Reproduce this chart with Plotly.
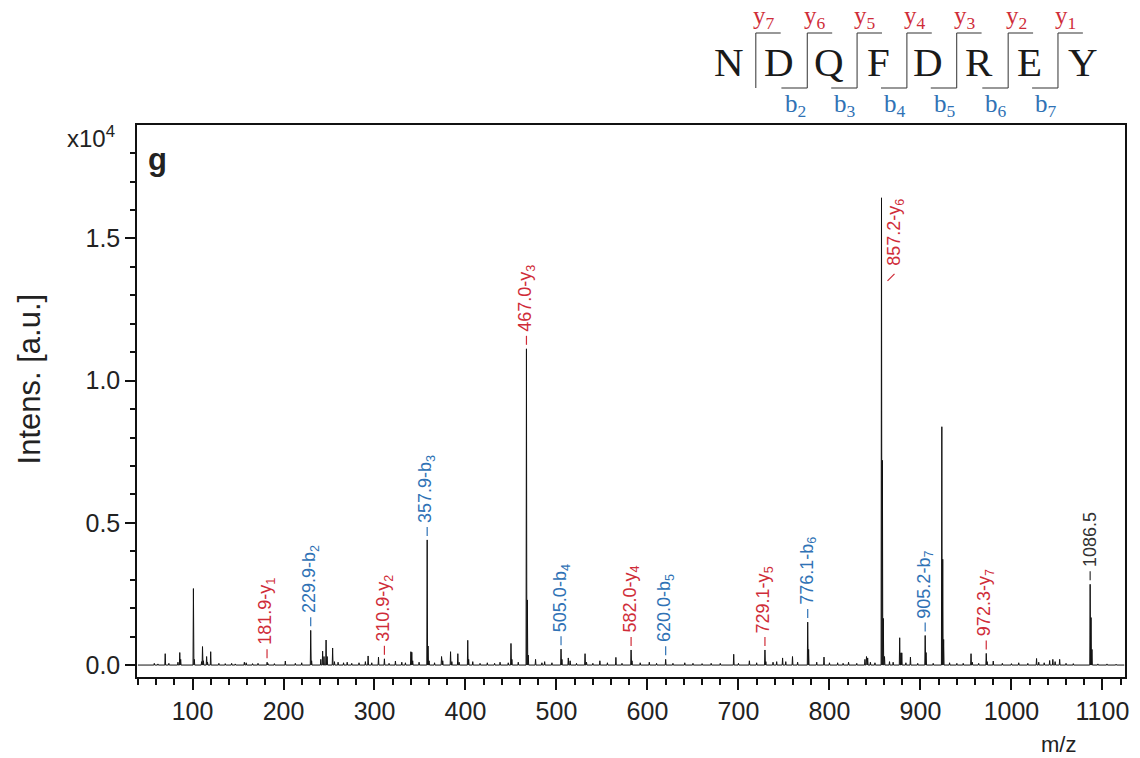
import plotly.graph_objects as go

# ---------------- data ----------------
peak_mz = [58, 62, 70, 74, 84, 86, 87, 101, 102, 110, 111, 112, 115.5, 116.5, 120, 129, 136, 143, 147,
           157, 159, 166, 172, 182, 183, 190, 202, 213, 220, 229.9, 230.9, 241, 243, 244.5, 246.8, 248,
           254, 256, 260, 266, 270, 275, 283, 290, 293, 297, 304.4, 310.9, 316, 323, 330, 334, 340, 341,
           342, 349, 357.9, 358.9, 360, 366, 373.7, 375, 383.6, 385, 391.6, 393, 402.5, 403.5, 408, 416,
           424, 432, 438, 447, 450, 451, 458, 467.0, 468.0, 469.0, 477, 484, 487, 495, 505.0, 506.0, 513,
           515, 522, 531.4, 533, 540, 547.7, 556, 565.3, 572, 582.0, 583.0, 592, 602, 610, 620.0, 628,
           641, 650, 660, 670, 680, 694.8, 700, 712, 720, 729.1, 730.1, 738, 742, 748.5, 752, 759.4, 765,
           776.1, 777.1, 786, 794, 800, 809, 815, 821, 830, 839, 840.7, 842, 845, 850, 857.2, 858.2,
           859.2, 860.5, 866, 870, 877.2, 878.5, 879.5, 884, 889, 897, 905.2, 906.2, 914, 923.5, 924.5,
           925.5, 932, 940, 947, 955.6, 957, 964, 972.3, 973.3, 980, 990, 1000, 1008, 1018, 1027.6,
           1030, 1036, 1042, 1045.5, 1048, 1053, 1060, 1068, 1086.5, 1087.5, 1088.5, 1095, 1105, 1115]
peak_int = [0.006, 0.004, 0.040, 0.006, 0.010, 0.044, 0.020, 0.269, 0.020, 0.012, 0.065, 0.015, 0.030,
            0.010, 0.047, 0.006, 0.005, 0.006, 0.004, 0.010, 0.008, 0.005, 0.006, 0.010, 0.005, 0.005,
            0.014, 0.006, 0.008, 0.122, 0.015, 0.020, 0.049, 0.030, 0.088, 0.030, 0.060, 0.012, 0.010,
            0.008, 0.010, 0.006, 0.008, 0.012, 0.032, 0.008, 0.028, 0.022, 0.006, 0.014, 0.010, 0.008,
            0.047, 0.045, 0.015, 0.010, 0.440, 0.067, 0.015, 0.008, 0.030, 0.015, 0.047, 0.012, 0.040,
            0.010, 0.087, 0.020, 0.012, 0.006, 0.008, 0.006, 0.010, 0.008, 0.076, 0.020, 0.010, 1.112,
            0.229, 0.035, 0.020, 0.008, 0.012, 0.008, 0.056, 0.020, 0.025, 0.015, 0.006, 0.040, 0.010,
            0.006, 0.015, 0.008, 0.027, 0.006, 0.053, 0.015, 0.008, 0.010, 0.006, 0.020, 0.006, 0.008,
            0.006, 0.005, 0.006, 0.006, 0.038, 0.006, 0.015, 0.008, 0.053, 0.012, 0.010, 0.012, 0.025,
            0.012, 0.030, 0.010, 0.151, 0.055, 0.010, 0.028, 0.008, 0.008, 0.006, 0.010, 0.006, 0.020,
            0.030, 0.025, 0.010, 0.008, 1.643, 0.720, 0.164, 0.030, 0.012, 0.010, 0.096, 0.043, 0.043,
            0.008, 0.028, 0.006, 0.104, 0.044, 0.006, 0.838, 0.372, 0.090, 0.008, 0.006, 0.006, 0.040,
            0.010, 0.006, 0.041, 0.012, 0.014, 0.006, 0.005, 0.008, 0.006, 0.023, 0.010, 0.008, 0.016,
            0.020, 0.012, 0.020, 0.006, 0.005, 0.284, 0.167, 0.055, 0.004, 0.004, 0.003]

label_mz = [181.9, 229.9, 310.9, 357.9, 467.0, 505.0, 582.0, 620.0, 729.1, 776.1, 857.2, 905.2, 972.3, 1086.5]
label_ion = ["y1", "b2", "y2", "b3", "y3", "b4", "y4", "b5", "y5", "b6", "y6", "b7", "y7", ""]

residues = ["N", "D", "Q", "F", "D", "R", "E", "Y"]

x_ticks = [100, 200, 300, 400, 500, 600, 700, 800, 900, 1000, 1100]
y_ticks = [0.0, 0.5, 1.0, 1.5]
y_ticklabels = ["0.0", "0.5", "1.0", "1.5"]

# ---------------- styling ----------------
RED = "#cf2c38"
BLUE = "#2f72b5"
DARK = "#333333"
SANS = "Liberation Sans, Arial, sans-serif"
SERIF = "Liberation Serif, Times New Roman, serif"

W, H = 1140, 758
L, R, T, B = 137, 11, 125, 81
PW, PH = W - L - R, H - T - B


def px(x):
    return (x - L) / PW


def py(y):
    return (H - B - y) / PH


# stick spectrum line built from the peak list
pairs = sorted(zip(peak_mz, peak_int))
xs, ys = [40], [0]
for m, h in pairs:
    xs += [m - 0.45, m, m + 0.45]
    ys += [0, h, 0]
xs.append(1124)
ys.append(0)

fig = go.Figure()
fig.add_trace(go.Scatter(x=xs, y=ys, mode="lines", line=dict(color="#111111", width=1),
                         hoverinfo="skip", showlegend=False))

annotations = []
shapes = []


def peak_height(m):
    return max(h for mm, h in pairs if abs(mm - m) <= 1.2)


for m, ion in zip(label_mz, label_ion):
    h = peak_height(m)
    if ion:
        text = f"{m:.1f}-{ion[0]}<sub>{ion[1:]}</sub>"
        col = RED if ion[0] == "y" else BLUE
    else:
        text = f"{m:.1f}"
        col = DARK
    if ion == "y6":
        annotations.append(dict(x=m, y=h, xref="x", yref="y", text=text, textangle=-90,
                                showarrow=False, xanchor="center", yanchor="bottom",
                                xshift=14, yshift=-70, font=dict(family=SANS, size=18, color=col)))
        shapes.append(dict(type="line", xref="x", yref="y", xsizemode="pixel", ysizemode="pixel",
                           xanchor=m, yanchor=h, x0=6, x1=13, y0=-83, y1=-76,
                           line=dict(color=col, width=1.2)))
    else:
        annotations.append(dict(x=m, y=h, xref="x", yref="y", text=text, textangle=-90,
                                showarrow=False, xanchor="center", yanchor="bottom",
                                yshift=15, font=dict(family=SANS, size=18, color=col)))
        shapes.append(dict(type="line", xref="x", yref="y", ysizemode="pixel",
                           yanchor=h, x0=m, x1=m, y0=4, y1=13,
                           line=dict(color=col, width=1.2)))

# ---------------- peptide sequence header ----------------
res_x = [731.7, 781.7, 831.7, 881.7, 931.7, 982.7, 1033, 1086.7]
cut_x = [758.3, 810, 860, 910, 960, 1011.7, 1061.7]
for r, x in zip(residues, res_x):
    annotations.append(dict(x=px(x), y=py(62), xref="paper", yref="paper", text=r, showarrow=False,
                            xanchor="center", yanchor="middle",
                            font=dict(family=SERIF, size=41, color="#1a1a1a")))
n = len(residues)
for i, x in enumerate(cut_x, start=1):
    line = dict(color="#444444", width=1.1)
    shapes.append(dict(type="line", xref="paper", yref="paper", x0=px(x), x1=px(x),
                       y0=py(33), y1=py(88), line=line))
    shapes.append(dict(type="line", xref="paper", yref="paper", x0=px(x), x1=px(x + 25),
                       y0=py(33), y1=py(33), line=line))
    annotations.append(dict(x=px(x + 8), y=py(17), xref="paper", yref="paper",
                            text=f"y<sub>{n - i}</sub>", showarrow=False,
                            xanchor="center", yanchor="middle",
                            font=dict(family=SERIF, size=25, color=RED)))
    if i >= 2:
        shapes.append(dict(type="line", xref="paper", yref="paper", x0=px(x - 26), x1=px(x),
                           y0=py(88), y1=py(88), line=line))
        annotations.append(dict(x=px(x - 12), y=py(105), xref="paper", yref="paper",
                                text=f"b<sub>{i}</sub>", showarrow=False,
                                xanchor="center", yanchor="middle",
                                font=dict(family=SERIF, size=25, color=BLUE)))

# ---------------- misc text ----------------
annotations += [
    dict(x=px(91), y=py(137), xref="paper", yref="paper", text="x10<sup>4</sup>", showarrow=False,
         xanchor="center", yanchor="middle", font=dict(family=SANS, size=24, color="#222")),
    dict(x=px(146), y=py(160), xref="paper", yref="paper", text="<b>g</b>", showarrow=False,
         xanchor="left", yanchor="middle", font=dict(family=SANS, size=31, color="#222")),
    dict(x=px(1062), y=py(744), xref="paper", yref="paper", text="m/z", showarrow=False,
         xanchor="center", yanchor="middle", font=dict(family=SANS, size=22, color="#222")),
    dict(x=px(29), y=py(379), xref="paper", yref="paper", text="Intens. [a.u.]", showarrow=False,
         textangle=-90, xanchor="center", yanchor="middle",
         font=dict(family=SANS, size=31, color="#222")),
]

fig.update_layout(
    width=W, height=H,
    margin=dict(l=L, r=R, t=T, b=B),
    paper_bgcolor="white", plot_bgcolor="white",
    showlegend=False,
    annotations=annotations,
    shapes=shapes,
    xaxis=dict(range=[39, 1124.8], tickmode="array", tickvals=x_ticks,
               ticks="outside", ticklen=11, tickwidth=1.5, tickcolor="#111",
               showline=True, linecolor="#111", linewidth=1.5, mirror=True,
               showgrid=False, zeroline=False,
               tickfont=dict(family=SANS, size=25, color="#222"),
               minor=dict(dtick=20, tick0=0, ticks="outside", ticklen=6, tickwidth=1.5,
                          tickcolor="#111", showgrid=False)),
    yaxis=dict(range=[-0.042, 1.899], tickmode="array", tickvals=y_ticks, ticktext=y_ticklabels,
               ticks="outside", ticklen=10, tickwidth=1.5, tickcolor="#111",
               showline=True, linecolor="#111", linewidth=1.5, mirror=True,
               showgrid=False, zeroline=False,
               tickfont=dict(family=SANS, size=25, color="#222"),
               minor=dict(dtick=0.1, tick0=0, ticks="outside", ticklen=5.5, tickwidth=1.5,
                          tickcolor="#111", showgrid=False)),
)

fig.write_html("out.html")
